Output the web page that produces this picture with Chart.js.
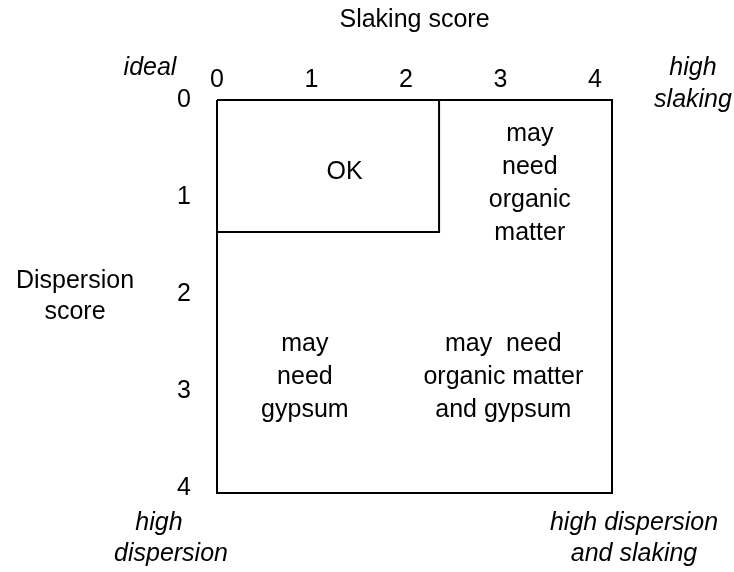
<!DOCTYPE html>
<html>
<head>
<meta charset="utf-8">
<script src="https://cdn.jsdelivr.net/npm/chart.js@4/dist/chart.umd.min.js"></script>
<style>
  html, body { margin: 0; padding: 0; background: #fff; }
  #wrap { width: 734px; height: 572px; }
</style>
</head>
<body>
<div id="wrap"><canvas id="graphs"></canvas></div>
<script>
// scores
const xTicks = [0, 1, 2, 3, 4];
const yTicks = [0, 1, 2, 3, 4];

// outer frame and the "OK" corner, in score units
const frameX = [0, 4.18, 4.18, 0, 0];
const frameY = [0, 0, 4.05, 4.05, 0];
const okX = [2.35, 2.35, 0];
const okY = [0, 1.36, 1.36];

// zone labels
const zoneText = [
  ['OK'],
  ['may', 'need', 'organic', 'matter'],
  ['may', 'need', 'gypsum'],
  ['may  need', 'organic matter', 'and gypsum']
];
const zoneX = [1.35, 3.31, 0.93, 3.03];
const zoneY = [0.74, 0.86, 2.86, 2.86];

const FONT = '"Liberation Sans", Arial, sans-serif';
const SIZE = 25;

function pts(xs, ys) {
  return xs.map((x, i) => ({ x: x, y: ys[i] }));
}

const labelsPlugin = {
  id: 'labels',
  afterDraw(chart) {
    const ctx = chart.ctx;
    const xs = chart.scales.x, ys = chart.scales.y;
    const area = chart.chartArea;
    ctx.save();
    ctx.fillStyle = '#000';
    ctx.textAlign = 'center';
    ctx.textBaseline = 'middle';
    ctx.font = SIZE + 'px ' + FONT;
    zoneText.forEach((lines, i) => {
      const cx = xs.getPixelForValue(zoneX[i]);
      const cy = ys.getPixelForValue(zoneY[i]);
      const lh = 33;
      lines.forEach((t, j) => {
        ctx.fillText(t, cx, cy + (j - (lines.length - 1) / 2) * lh);
      });
    });

    // y axis title, horizontal
    ctx.fillText('Dispersion', 75, 281);
    ctx.fillText('score', 75, 312);

    // corner notes
    ctx.font = 'italic ' + SIZE + 'px ' + FONT;
    ctx.fillText('ideal', area.left - 67, area.top - 32);
    ctx.fillText('high', area.right + 81, area.top - 32);
    ctx.fillText('slaking', area.right + 81, area.top);
    ctx.fillText('high', area.left - 58, area.bottom + 30);
    ctx.fillText('dispersion', area.left - 46, area.bottom + 61);
    ctx.fillText('high dispersion', area.right + 22, area.bottom + 30);
    ctx.fillText('and slaking', area.right + 22, area.bottom + 61);
    ctx.restore();
  }
};

const lineStyle = {
  showLine: true,
  borderColor: '#000',
  borderWidth: 2,
  pointRadius: 0,
  fill: false,
  clip: false,
  tension: 0
};

let config = {
  type: 'scatter',
  data: {
    datasets: [
      Object.assign({ label: 'frame', data: pts(frameX, frameY) }, lineStyle),
      Object.assign({ label: 'OK', data: pts(okX, okY) }, lineStyle)
    ]
  },
  options: {
    responsive: true,
    maintainAspectRatio: false,
    animation: false,
    layout: { padding: { left: 0, top: 0, right: 122, bottom: 79 } },
    plugins: {
      legend: { display: false },
      tooltip: { enabled: false }
    },
    scales: {
      x: {
        type: 'linear',
        position: 'top',
        min: 0,
        max: 4.18,
        grid: { display: false, drawTicks: false },
        border: { display: false },
        afterBuildTicks: s => { s.ticks = xTicks.map(v => ({ value: v })); },
        afterFit: s => { s.height = 100; },
        ticks: { padding: 5, color: '#000', font: { family: FONT, size: SIZE } },
        title: {
          display: true,
          text: 'Slaking score',
          color: '#000',
          font: { family: FONT, size: SIZE },
          padding: { top: 5, bottom: 0 }
        }
      },
      y: {
        type: 'linear',
        reverse: true,
        min: 0,
        max: 4.05,
        grid: { display: false, drawTicks: false },
        border: { display: false },
        afterBuildTicks: s => { s.ticks = yTicks.map(v => ({ value: v })); },
        afterFit: s => { s.width = 217; },
        ticks: { padding: 26, color: '#000', font: { family: FONT, size: SIZE } }
      }
    }
  },
  plugins: [labelsPlugin]
};

window.onload = function() {
  let ctx = document.querySelector('#graphs').getContext('2d');
  window.myChart = new Chart(ctx, config);
};
</script>
</body>
</html>
